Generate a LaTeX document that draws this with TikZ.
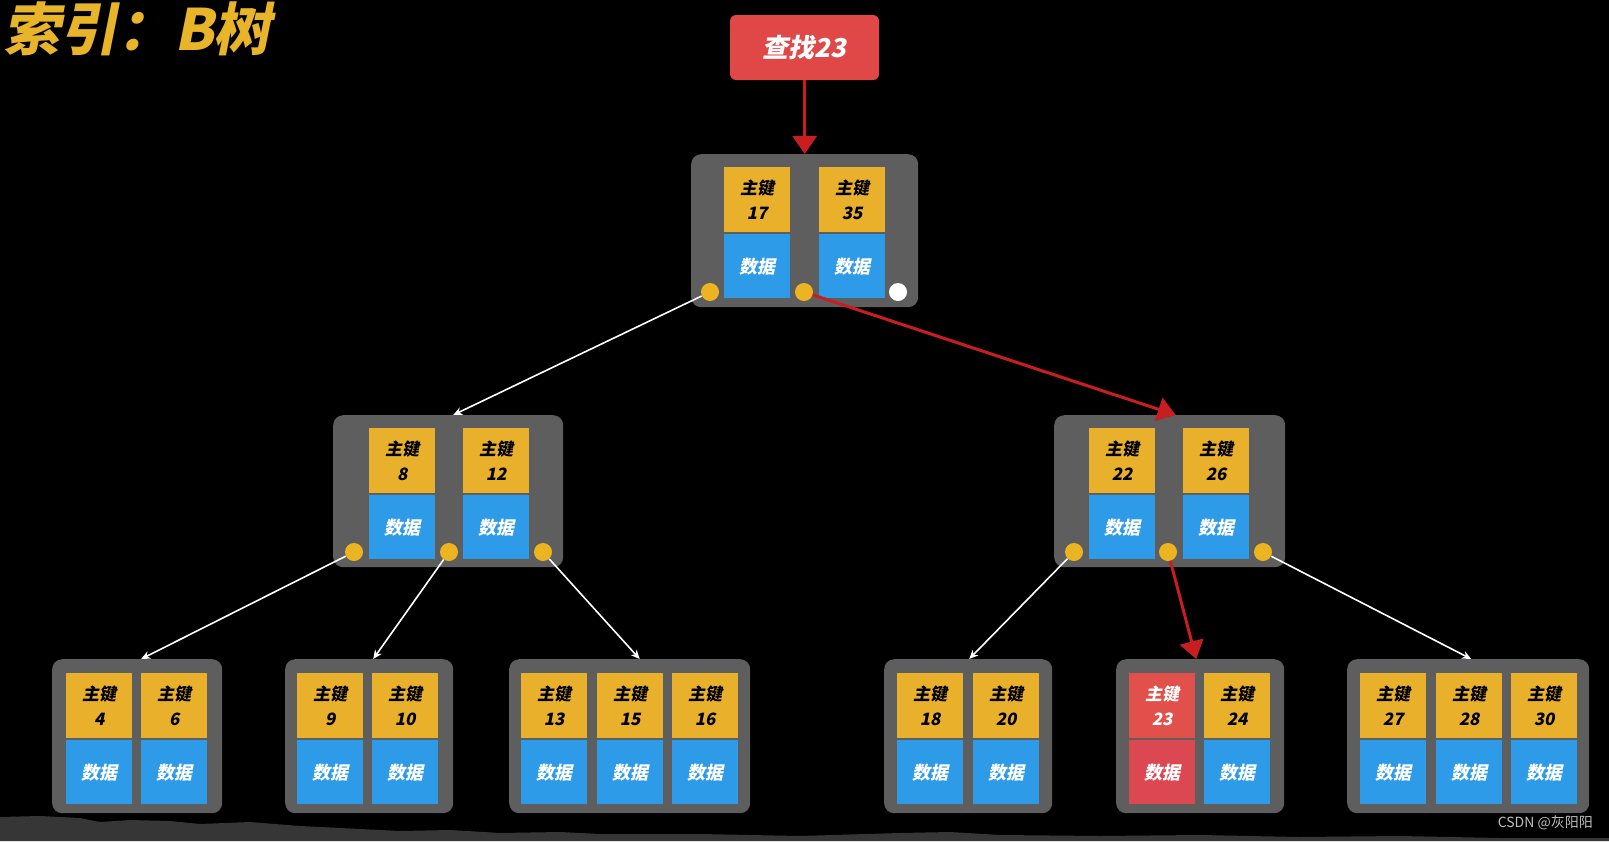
\documentclass[tikz,border=0pt]{standalone}
\usepackage{fontspec}
\newfontfamily\cjk[FakeSlant=0.2]{Noto Sans CJK SC}
\newfontfamily\cjkplain{Noto Sans CJK SC}
\usetikzlibrary{arrows.meta}
\definecolor{boxgray}{HTML}{5E5E5E}
\definecolor{keyyellow}{HTML}{E9B12B}
\definecolor{datablue}{HTML}{2D9BE8}
\definecolor{hitred}{HTML}{E2504B}
\definecolor{hitdata}{HTML}{DC4852}
\definecolor{dotyellow}{HTML}{EDB422}
\definecolor{arrred}{HTML}{C81E22}
\definecolor{searchred}{HTML}{E04848}
\definecolor{bandgray}{HTML}{363636}
\definecolor{wmgray}{HTML}{BDBDBD}
\definecolor{titleyellow}{HTML}{E8B52A}
\newcommand\keydata[4]{%
  \node[keycell] (#1k) at (#2,#3) {主键\\#4};
  \node[datacell] (#1d) at (#2,#3+67) {数据};
}
\begin{document}
\begin{tikzpicture}[x=1pt,y=-1pt,
  nodebox/.style={fill=boxgray, rounded corners=10pt, anchor=north west, inner sep=0, draw=none},
  keycell/.style={fill=keyyellow, anchor=north west, minimum width=66pt, minimum height=65pt, inner sep=0, align=center, text=black, font=\cjk\bfseries\fontsize{17}{25}\selectfont},
  datacell/.style={fill=datablue, anchor=north west, minimum width=66pt, minimum height=64pt, inner sep=0, align=center, text=white, font=\cjk\bfseries\fontsize{18}{20}\selectfont},
  hitkey/.style={keycell, fill=hitred, text=white},
  hitdatacell/.style={datacell, fill=hitdata},
  ptr/.style={circle, fill=dotyellow, minimum size=18pt, inner sep=0},
  ptrnull/.style={ptr, fill=white},
  warr/.style={draw=white, line width=1.6pt, -{Stealth[length=9pt,width=8pt]}},
  rarr/.style={draw=arrred, line width=3pt, -{Triangle[length=18pt,width=24pt]}}
]
\useasboundingbox[fill=black] (0,0) rectangle (1609,841);

% bottom band
\fill[bandgray] (0,817) -- (40,816) -- (80,818) -- (100,822) -- (130,820) -- (170,821)
  -- (200,824) -- (250,822) -- (300,826) -- (360,829) -- (400,831) -- (450,830)
  -- (500,833) -- (560,832) -- (600,834) -- (700,834) -- (800,836) -- (900,833)
  -- (950,832) -- (1000,835) -- (1100,836) -- (1200,835) -- (1300,837) -- (1400,836)
  -- (1500,838) -- (1609,838) -- (1609,841) -- (0,841) -- cycle;

% title
\node[anchor=west, text=titleyellow, font=\cjk\bfseries\fontsize{57}{57}\selectfont, inner sep=0] (title) at (3,29) {索引：B树};

% search box
\node[fill=searchred, rounded corners=6pt, minimum width=149pt, minimum height=65pt, inner sep=0, text=white,
  font=\cjk\bfseries\fontsize{26}{26}\selectfont] (search) at (804.5,47.5) {查找23};

% node boxes
\node[nodebox, minimum width=227pt, minimum height=153pt] (root) at (691,154) {};
\node[nodebox, minimum width=230pt, minimum height=152pt] (ml) at (333,415) {};
\node[nodebox, minimum width=231pt, minimum height=152pt] (mr) at (1054,415) {};
\node[nodebox, minimum width=170pt, minimum height=154pt] (l1) at (52,659) {};
\node[nodebox, minimum width=168pt, minimum height=154pt] (l2) at (285,659) {};
\node[nodebox, minimum width=241pt, minimum height=154pt] (l3) at (509,659) {};
\node[nodebox, minimum width=168pt, minimum height=154pt] (l4) at (884,659) {};
\node[nodebox, minimum width=168pt, minimum height=154pt] (l5) at (1116,659) {};
\node[nodebox, minimum width=242pt, minimum height=154pt] (l6) at (1347,659) {};

% cells
\keydata{r1}{724}{167}{17}
\keydata{r2}{819}{167}{35}
\keydata{a1}{369}{428}{8}
\keydata{a2}{463}{428}{12}
\keydata{b1}{1089}{428}{22}
\keydata{b2}{1183}{428}{26}
\keydata{c1}{66}{673}{4}
\keydata{c2}{141}{673}{6}
\keydata{d1}{297}{673}{9}
\keydata{d2}{372}{673}{10}
\keydata{e1}{521}{673}{13}
\keydata{e2}{597}{673}{15}
\keydata{e3}{672}{673}{16}
\keydata{f1}{897}{673}{18}
\keydata{f2}{973}{673}{20}
\node[hitkey] (g1k) at (1129,673) {主键\\23};
\node[hitdatacell] (g1d) at (1129,740) {数据};
\keydata{g2}{1204}{673}{24}
\keydata{h1}{1360}{673}{27}
\keydata{h2}{1436}{673}{28}
\keydata{h3}{1511}{673}{30}

% pointer dots
\node[ptr] (rp1) at (710,292) {};
\node[ptr] (rp2) at (804,292) {};
\node[ptrnull] (rp3) at (898,292) {};
\node[ptr] (ap1) at (354,552) {};
\node[ptr] (ap2) at (449,552) {};
\node[ptr] (ap3) at (543,552) {};
\node[ptr] (bp1) at (1074,552) {};
\node[ptr] (bp2) at (1168,552) {};
\node[ptr] (bp3) at (1263,552) {};

% connectors
\draw[rarr] (search.south) -- (root.north);
\draw[warr] (rp1) -- ([xshift=5pt]ml.north);
\draw[rarr] (rp2) -- ([xshift=6pt]mr.north);
\draw[warr] (ap1) -- ([xshift=4pt]l1.north);
\draw[warr] (ap2) -- ([xshift=4pt]l2.north);
\draw[warr] (ap3) -- ([xshift=10pt]l3.north);
\draw[warr] (bp1) -- ([xshift=1pt]l4.north);
\draw[rarr] (bp2) -- ([xshift=-4pt]l5.north);
\draw[warr] (bp3) -- ([xshift=3pt]l6.north);

% watermark
\node[anchor=east, text=wmgray, font=\cjkplain\fontsize{14}{14}\selectfont, inner sep=0] (wm) at (1593,823) {CSDN @灰阳阳};
\end{tikzpicture}
\end{document}
